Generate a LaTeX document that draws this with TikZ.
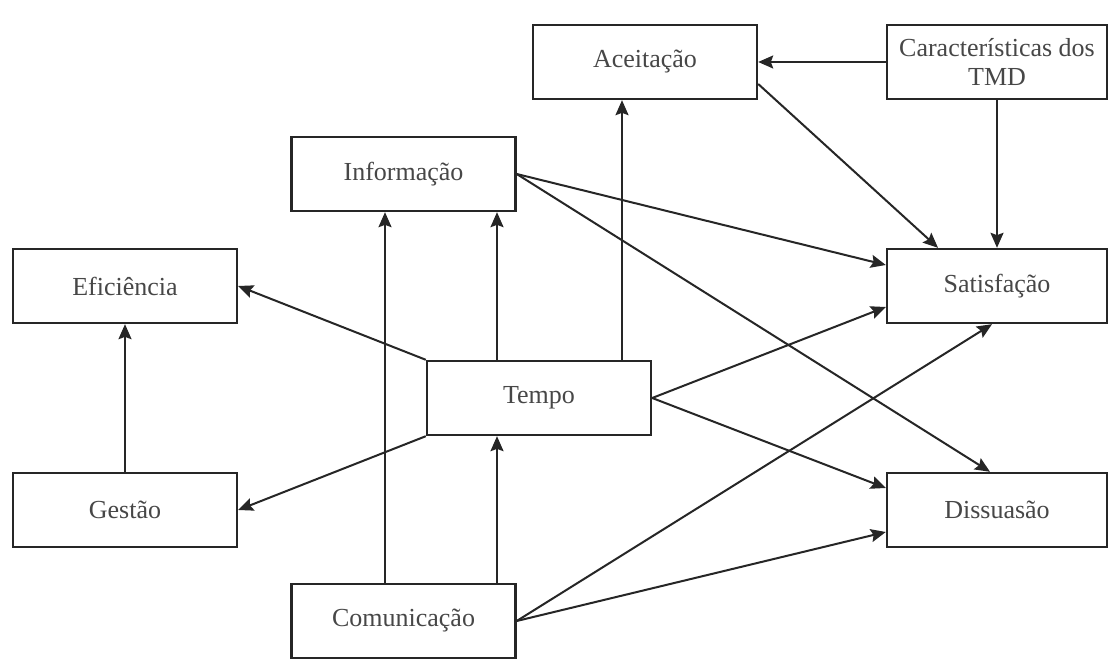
\documentclass[tikz,border=0pt]{standalone}
\usepackage{fontspec}
\setmainfont{Liberation Serif}
\usetikzlibrary{arrows.meta,calc}
\begin{document}
\begin{tikzpicture}[x=0.5pt,y=-0.5pt,
  box/.style={draw=black!85,line width=1.2pt,rectangle,inner sep=0pt,
    minimum width=112pt,minimum height=37pt,align=center,
    font=\fontsize{13}{14.5}\selectfont,text=black!72},
  rbox/.style={box,minimum width=110pt},
  arr/.style={draw=black!85,line width=1pt,-{Stealth[length=7.5pt,width=6.5pt,inset=1.2pt]}}]
\fill[white] (0,0) rectangle (1108,672);
\useasboundingbox (0,0) rectangle (1108,672);
\node[box]  (acc) at (645,62)   {Aceitação};
\node[rbox] (car) at (997,62)   {Características dos\\TMD};
\node[box]  (inf) at (403.5,174) {Informação};
\node[box]  (efi) at (125,286)  {Eficiência};
\node[rbox] (sat) at (997,286)  {Satisfação};
\node[box]  (tem) at (539,398)  {Tempo};
\node[box]  (ges) at (125,510)  {Gestão};
\node[rbox] (dis) at (997,510)  {Dissuasão};
\node[box]  (com) at (403.5,621) {Comunicação};
\coordinate (xa) at (622,0);
\coordinate (xb) at (497,0);
\coordinate (xc) at (385,0);
% connectors
\draw[arr] (car.west) -- (acc.east);
\draw[arr] (car.south) -- (sat.north);
\draw[arr] ($(acc.east)+(0,22)$) -- ($(sat.north)+(-59,0)$);
\draw[arr] (inf.east) -- ($(sat.west)+(0,-21)$);
\draw[arr] (inf.east) -- ($(dis.north)+(-7,0)$);
\draw[arr] (xa |- tem.north) -- (xa |- acc.south);
\draw[arr] (xb |- tem.north) -- (xb |- inf.south);
\draw[arr] (xc |- com.north) -- (xc |- inf.south);
\draw[arr] (xb |- com.north) -- (xb |- tem.south);
\draw[arr] (tem.north west) -- (efi.east);
\draw[arr] (tem.south west) -- (ges.east);
\draw[arr] (ges.north) -- (efi.south);
\draw[arr] (tem.east) -- ($(sat.west)+(0,21)$);
\draw[arr] (tem.east) -- ($(dis.west)+(0,-22)$);
\draw[arr] (com.east) -- ($(sat.south)+(-5,0)$);
\draw[arr] (com.east) -- ($(dis.west)+(0,22)$);
\end{tikzpicture}
\end{document}
